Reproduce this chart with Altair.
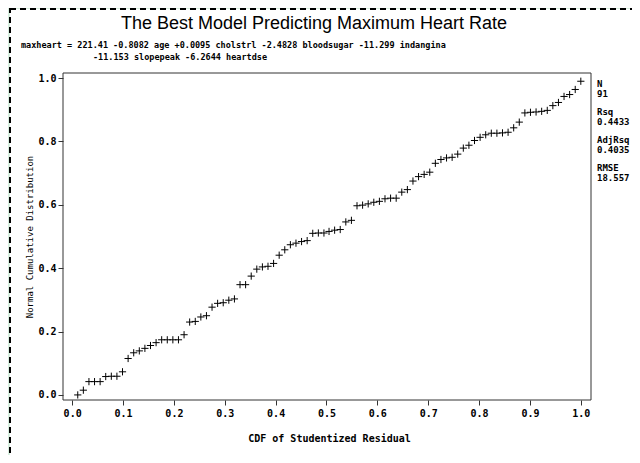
import altair as alt
import pandas as pd

# ---- data ----
x_cdf = [0.011, 0.022, 0.033, 0.044, 0.055, 0.066, 0.077, 0.088, 0.099, 0.110,
         0.121, 0.132, 0.143, 0.154, 0.165, 0.176, 0.187, 0.198, 0.209, 0.220,
         0.231, 0.242, 0.253, 0.264, 0.275, 0.286, 0.297, 0.308, 0.319, 0.330,
         0.341, 0.352, 0.363, 0.374, 0.385, 0.396, 0.407, 0.418, 0.429, 0.440,
         0.451, 0.462, 0.473, 0.484, 0.495, 0.505, 0.516, 0.527, 0.538, 0.549,
         0.560, 0.571, 0.582, 0.593, 0.604, 0.615, 0.626, 0.637, 0.648, 0.659,
         0.670, 0.681, 0.692, 0.703, 0.714, 0.725, 0.736, 0.747, 0.758, 0.769,
         0.780, 0.791, 0.802, 0.813, 0.824, 0.835, 0.846, 0.857, 0.868, 0.879,
         0.890, 0.901, 0.912, 0.923, 0.934, 0.945, 0.956, 0.967, 0.978, 0.989,
         1.000]
y_norm = [0.000, 0.015, 0.042, 0.042, 0.042, 0.058, 0.059, 0.059, 0.073, 0.115,
          0.133, 0.139, 0.147, 0.156, 0.165, 0.174, 0.174, 0.174, 0.174, 0.190,
          0.230, 0.232, 0.246, 0.250, 0.277, 0.289, 0.291, 0.299, 0.303, 0.348,
          0.348, 0.375, 0.397, 0.404, 0.406, 0.415, 0.441, 0.458, 0.474, 0.479,
          0.484, 0.487, 0.510, 0.511, 0.511, 0.516, 0.520, 0.522, 0.546, 0.551,
          0.597, 0.599, 0.603, 0.608, 0.611, 0.619, 0.621, 0.621, 0.640, 0.648,
          0.675, 0.689, 0.696, 0.703, 0.731, 0.743, 0.748, 0.750, 0.760, 0.779,
          0.788, 0.803, 0.813, 0.821, 0.826, 0.826, 0.827, 0.829, 0.843, 0.861,
          0.890, 0.892, 0.893, 0.895, 0.898, 0.913, 0.923, 0.942, 0.948, 0.964,
          0.990]
x_ticks = [0.0, 0.1, 0.2, 0.3, 0.4, 0.5, 0.6, 0.7, 0.8, 0.9, 1.0]
y_ticks = [0.0, 0.2, 0.4, 0.6, 0.8, 1.0]

title_text = "The Best Model Predicting Maximum Heart Rate"
eq_line1 = "maxheart = 221.41 -0.8082 age +0.0095 cholstrl -2.4828 bloodsugar -11.299 indangina"
eq_line2 = "-11.153 slopepeak -6.2644 heartdse"
stat_labels = ["N", "91", "Rsq", "0.4433", "AdjRsq", "0.4035", "RMSE", "18.557"]
x_title = "CDF of Studentized Residual"
y_title = "Normal Cumulative Distribution"

# ---- layout ----
W, H = 528, 327
MONO = "DejaVu Sans Mono"
one = alt.Data(values=[{}])

df = pd.DataFrame({"cdf": x_cdf, "norm": y_norm})

xscale = alt.Scale(domain=[-0.018, 1.02], nice=False, zero=False)
yscale = alt.Scale(domain=[-0.016, 1.016], nice=False, zero=False)

page = alt.Chart(one).mark_rect(
    fill="white", stroke="black", strokeWidth=2, strokeDash=[6, 4]
).encode(x=alt.value(-53), y=alt.value(-64), x2=alt.value(W + 80), y2=alt.value(H + 90))

points = alt.Chart(df).mark_point(
    shape="M-1,0L1,0M0,-1L0,1", size=52, filled=False,
    stroke="black", strokeWidth=1, opacity=1
).encode(
    x=alt.X("cdf:Q", scale=xscale, axis=alt.Axis(
        values=x_ticks, format=".1f", title=x_title, grid=False, domain=False,
        tickSize=5, tickColor="#333", labelFont=MONO, labelFontWeight="bold",
        labelFontSize=10, labelColor="black", labelPadding=3,
        titleFont=MONO, titleFontSize=10, titleFontWeight="bold", titleColor="black",
        titleX=W / 2 + 2, titleY=38, titleBaseline="middle", zindex=1)),
    y=alt.Y("norm:Q", scale=yscale, axis=alt.Axis(
        values=y_ticks, format=".1f", title=y_title, grid=False, domain=False,
        tickSize=5, tickColor="#333", labelFont=MONO, labelFontWeight="bold",
        labelFontSize=10, labelColor="black", labelPadding=2,
        titleFont=MONO, titleFontSize=9, titleFontWeight="normal", titleColor="black",
        titleX=-34, titleY=H / 2, titleAngle=270, titleBaseline="middle", zindex=1)),
)

frame = alt.Chart(one).mark_rect(
    fillOpacity=0, stroke="#333", strokeWidth=1
).encode(x=alt.value(0), y=alt.value(0), x2=alt.value(W), y2=alt.value(H))

title = alt.Chart(one).mark_text(
    text=title_text, font="Liberation Sans", fontSize=18,
    align="center", baseline="alphabetic", color="black"
).encode(x=alt.value(251), y=alt.value(-44.5))

eq1 = alt.Chart(one).mark_text(
    text=eq_line1, font=MONO, fontSize=8.5, fontWeight="bold",
    align="left", baseline="alphabetic", color="black"
).encode(x=alt.value(-42), y=alt.value(-25.5))
eq2 = alt.Chart(one).mark_text(
    text=eq_line2, font=MONO, fontSize=8.5, fontWeight="bold",
    align="left", baseline="alphabetic", color="black"
).encode(x=alt.value(30), y=alt.value(-13.5))

stat_layers = []
for i, lab in enumerate(stat_labels):
    yy = 13.5 + (i // 2) * 28 + (i % 2) * 10
    stat_layers.append(alt.Chart(one).mark_text(
        text=lab, font=MONO, fontSize=9, fontWeight="bold",
        align="left", baseline="alphabetic", color="black"
    ).encode(x=alt.value(534), y=alt.value(yy)))

chart = alt.layer(page, points, frame, title, eq1, eq2, *stat_layers).properties(
    width=W, height=H,
    autosize=alt.AutoSizeParams(type="none"),
    padding={"left": 55, "top": 65, "right": 41, "bottom": 55},
    background="#d8efdf",
).configure_view(stroke=None)

chart.save("out.html", embed_options={"renderer": "svg", "actions": False})
